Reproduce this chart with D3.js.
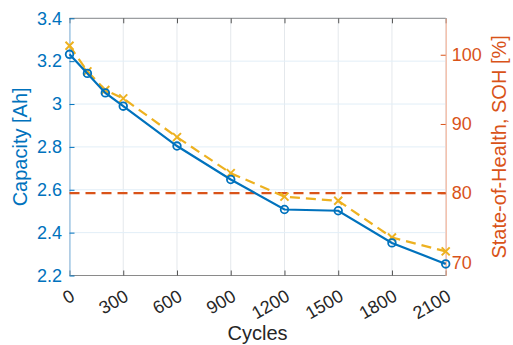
<!DOCTYPE html>
<html>
<head>
<meta charset="utf-8">
<script src="https://cdn.jsdelivr.net/npm/d3@7"></script>
<style>
  html, body { margin: 0; padding: 0; background: #fff; }
  svg { display: block; }
  text { font-family: "Liberation Sans", Arial, Helvetica, sans-serif; }
</style>
</head>
<body>
<svg id="chart" width="513" height="345"></svg>
<script>
// Cycle counts at which the cell was characterised
const cycles = [0, 100, 200, 300, 600, 900, 1200, 1500, 1800, 2100];
// Measured discharge capacity [Ah]
const capacity = [3.232, 3.143, 3.052, 2.990, 2.804, 2.648, 2.508, 2.502, 2.352, 2.254];
// Estimated state of health [%]
const soh = [101.3, 97.6, 94.9, 93.7, 88.1, 82.9, 79.5, 78.9, 73.6, 71.6];
// End-of-life threshold [%]
const eolThreshold = 80;
// Reference capacity that maps to 100 % SOH [Ah]
const ratedCapacity = 3.23;

const xTicks = [0, 300, 600, 900, 1200, 1500, 1800, 2100];
const capTicks = [2.2, 2.4, 2.6, 2.8, 3.0, 3.2, 3.4];
const sohTicks = [70, 80, 90, 100];
const capDomain = [2.2, 3.4];

const blue = "#0072BD", orange = "#D95319", yellow = "#EDB120";
const tickFont = 18, titleFont = 20;

const svg = d3.select("#chart");
const L = 69.5, R = 445.7, T = 18.3, B = 275.5;

const x = d3.scaleLinear().domain([0, 2100]).range([L, R]);
const yL = d3.scaleLinear().domain(capDomain).range([B, T]);
const yR = d3.scaleLinear()
  .domain(capDomain.map(c => c / ratedCapacity * 100))
  .range([B, T]);

// grid
const grid = svg.append("g");
grid.selectAll(".gx").data(xTicks).join("line")
  .attr("x1", d => x(d)).attr("x2", d => x(d))
  .attr("y1", T).attr("y2", B)
  .attr("stroke", "#E4E8EC").attr("stroke-width", 1);
grid.selectAll(".gy").data(capTicks).join("line")
  .attr("x1", L).attr("x2", R)
  .attr("y1", d => yL(d)).attr("y2", d => yL(d))
  .attr("stroke", "#E2EEF7").attr("stroke-width", 1);

// box: top and bottom
svg.append("line").attr("x1", L).attr("x2", R).attr("y1", T).attr("y2", T)
  .attr("stroke", "#8a8a8a").attr("stroke-width", 1);
svg.append("line").attr("x1", L).attr("x2", R).attr("y1", B).attr("y2", B)
  .attr("stroke", "#8a8a8a").attr("stroke-width", 1);

// x axes (ticks inward, top and bottom)
const xb = svg.append("g").attr("transform", `translate(0,${B})`)
  .call(d3.axisBottom(x).tickValues(xTicks).tickSizeInner(-5).tickSizeOuter(0).tickFormat(""));
xb.select(".domain").remove();
xb.selectAll(".tick line").attr("stroke", "#555");
const xt = svg.append("g").attr("transform", `translate(0,${T})`)
  .call(d3.axisTop(x).tickValues(xTicks).tickSizeInner(-5).tickSizeOuter(0).tickFormat(""));
xt.select(".domain").remove();
xt.selectAll(".tick line").attr("stroke", "#555");

// rotated x tick labels
svg.append("g").selectAll("text").data(xTicks).join("text")
  .attr("transform", d => `translate(${x(d) + 4},${B + 20}) rotate(-30)`)
  .attr("text-anchor", "end")
  .attr("dominant-baseline", "middle")
  .attr("font-size", tickFont)
  .attr("fill", "#262626")
  .text(d => d);

// left axis
const ya = svg.append("g").attr("transform", `translate(${L},0)`)
  .call(d3.axisLeft(yL).tickValues(capTicks).tickSizeInner(-5).tickSizeOuter(0).tickPadding(7.5)
    .tickFormat(d => d3.format("")(+d.toFixed(1))));
ya.select(".domain").attr("stroke", "#7FB3DC");
ya.selectAll(".tick line").attr("stroke", blue);
ya.selectAll(".tick text").attr("fill", blue).attr("font-size", tickFont)
  .attr("font-family", "Liberation Sans, Arial, sans-serif");

// right axis
const yb = svg.append("g").attr("transform", `translate(${R},0)`)
  .call(d3.axisRight(yR).tickValues(sohTicks).tickSizeInner(-5).tickSizeOuter(0).tickPadding(6));
yb.select(".domain").attr("stroke", "#F2A98A");
yb.selectAll(".tick line").attr("stroke", orange);
yb.selectAll(".tick text").attr("fill", orange).attr("font-size", tickFont)
  .attr("font-family", "Liberation Sans, Arial, sans-serif");

// axis titles
svg.append("text")
  .attr("transform", `translate(27,${(T + B) / 2}) rotate(-90)`)
  .attr("text-anchor", "middle").attr("font-size", titleFont).attr("fill", blue)
  .text("Capacity [Ah]");
svg.append("text")
  .attr("transform", `translate(506,${(T + B) / 2}) rotate(-90)`)
  .attr("text-anchor", "middle").attr("font-size", titleFont).attr("fill", orange)
  .text("State-of-Health, SOH [%]");
svg.append("text")
  .attr("x", (L + R) / 2).attr("y", 340)
  .attr("text-anchor", "middle").attr("font-size", titleFont).attr("fill", "#262626")
  .text("Cycles");

// end-of-life threshold
svg.append("line")
  .attr("x1", x(0)).attr("x2", x(2100))
  .attr("y1", yR(eolThreshold)).attr("y2", yR(eolThreshold))
  .attr("stroke", orange).attr("stroke-width", 2.2).attr("stroke-dasharray", "10,6");

// SOH series (right axis)
svg.append("path")
  .datum(cycles.map((c, i) => [c, soh[i]]))
  .attr("d", d3.line().x(d => x(d[0])).y(d => yR(d[1])))
  .attr("fill", "none").attr("stroke", yellow).attr("stroke-width", 2.2)
  .attr("stroke-dasharray", "10,6");
const cross = 4;
svg.append("g").selectAll("path").data(cycles.map((c, i) => [c, soh[i]])).join("path")
  .attr("d", d => {
    const cx = x(d[0]), cy = yR(d[1]);
    return `M${cx - cross},${cy - cross}L${cx + cross},${cy + cross}M${cx - cross},${cy + cross}L${cx + cross},${cy - cross}`;
  })
  .attr("stroke", yellow).attr("stroke-width", 2).attr("fill", "none");

// capacity series (left axis)
svg.append("path")
  .datum(cycles.map((c, i) => [c, capacity[i]]))
  .attr("d", d3.line().x(d => x(d[0])).y(d => yL(d[1])))
  .attr("fill", "none").attr("stroke", blue).attr("stroke-width", 2.2);
svg.append("g").selectAll("circle").data(cycles.map((c, i) => [c, capacity[i]])).join("circle")
  .attr("cx", d => x(d[0])).attr("cy", d => yL(d[1])).attr("r", 3.8)
  .attr("fill", "none").attr("stroke", blue).attr("stroke-width", 1.8);
</script>
</body>
</html>
